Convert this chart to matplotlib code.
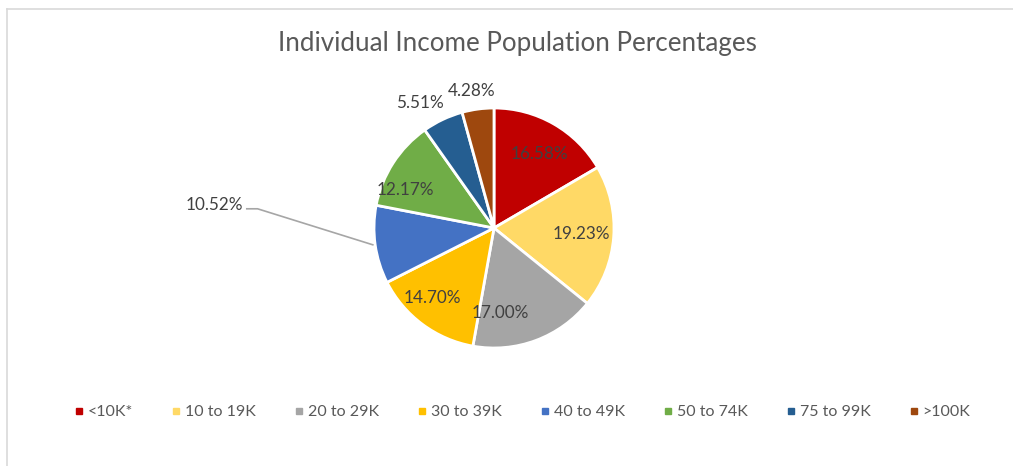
import matplotlib.pyplot as plt
from matplotlib.lines import Line2D

categories = ['<10K*', '10 to 19K', '20 to 29K', '30 to 39K', '40 to 49K', '50 to 74K', '75 to 99K', '>100K']
percentages = [16.58, 19.23, 17.00, 14.70, 10.52, 12.17, 5.51, 4.28]
colors = ['#C00000', '#FFD966', '#A5A5A5', '#FFC000', '#4472C4', '#70AD47', '#255E91', '#9E480E']

# label placement in pie radius units (Excel "best fit" look)
label_pos = [(0.38, 0.62), (0.73, -0.05), (0.05, -0.71), (-0.51, -0.58),
             (-2.09, 0.19), (-0.74, 0.32), (-0.62, 1.04), (-0.19, 1.14)]
label_ha = ['center', 'center', 'center', 'center', 'right', 'center', 'center', 'center']

plt.rcParams['font.family'] = ['Lato', 'DejaVu Sans']

fig = plt.figure(figsize=(10.13, 4.66), dpi=100)
W, H = 1013, 466
cx, cy, r = 494, 228, 120
ax = fig.add_axes([(cx - r) / W, 1 - (cy + r) / H, 2 * r / W, 2 * r / H])

ax.pie(percentages, colors=colors, startangle=90, counterclock=False, radius=1,
       wedgeprops=dict(edgecolor='white', linewidth=2))
ax.set_xlim(-1, 1)
ax.set_ylim(-1, 1)
ax.set_aspect('equal')
ax.axis('off')

for p, (x, y), ha in zip(percentages, label_pos, label_ha):
    ax.text(x, y, f'{p:.2f}%', ha=ha, va='center', fontsize=12.3, color='#404040')

# leader line for the 10.52% label
ax.plot([-2.06, -1.97, -1.01], [0.16, 0.16, -0.14], color='#A6A6A6', lw=1.2, clip_on=False)

fig.text(517 / W, 1 - 44 / H, 'Individual Income Population Percentages',
         ha='center', va='center', fontsize=18.7, color='#595959')

handles = [Line2D([0], [0], marker='s', ls='', markersize=5, markerfacecolor=c,
                  markeredgecolor=c) for c in colors]
fig.legend(handles, categories, loc='center', bbox_to_anchor=(0.516, 1 - 412 / H), ncol=8,
           frameon=False, fontsize=11.5, handlelength=0.5, handletextpad=0.3,
           columnspacing=2.45, labelcolor='#595959')

# chart area border
fig.add_artist(Line2D([7 / W, 7 / W], [0, 1 - 9 / H], color='#D9D9D9', lw=1.2))
fig.add_artist(Line2D([7 / W, 1], [1 - 9 / H, 1 - 9 / H], color='#D9D9D9', lw=1.2))

fig.savefig('out.png', dpi=100)
